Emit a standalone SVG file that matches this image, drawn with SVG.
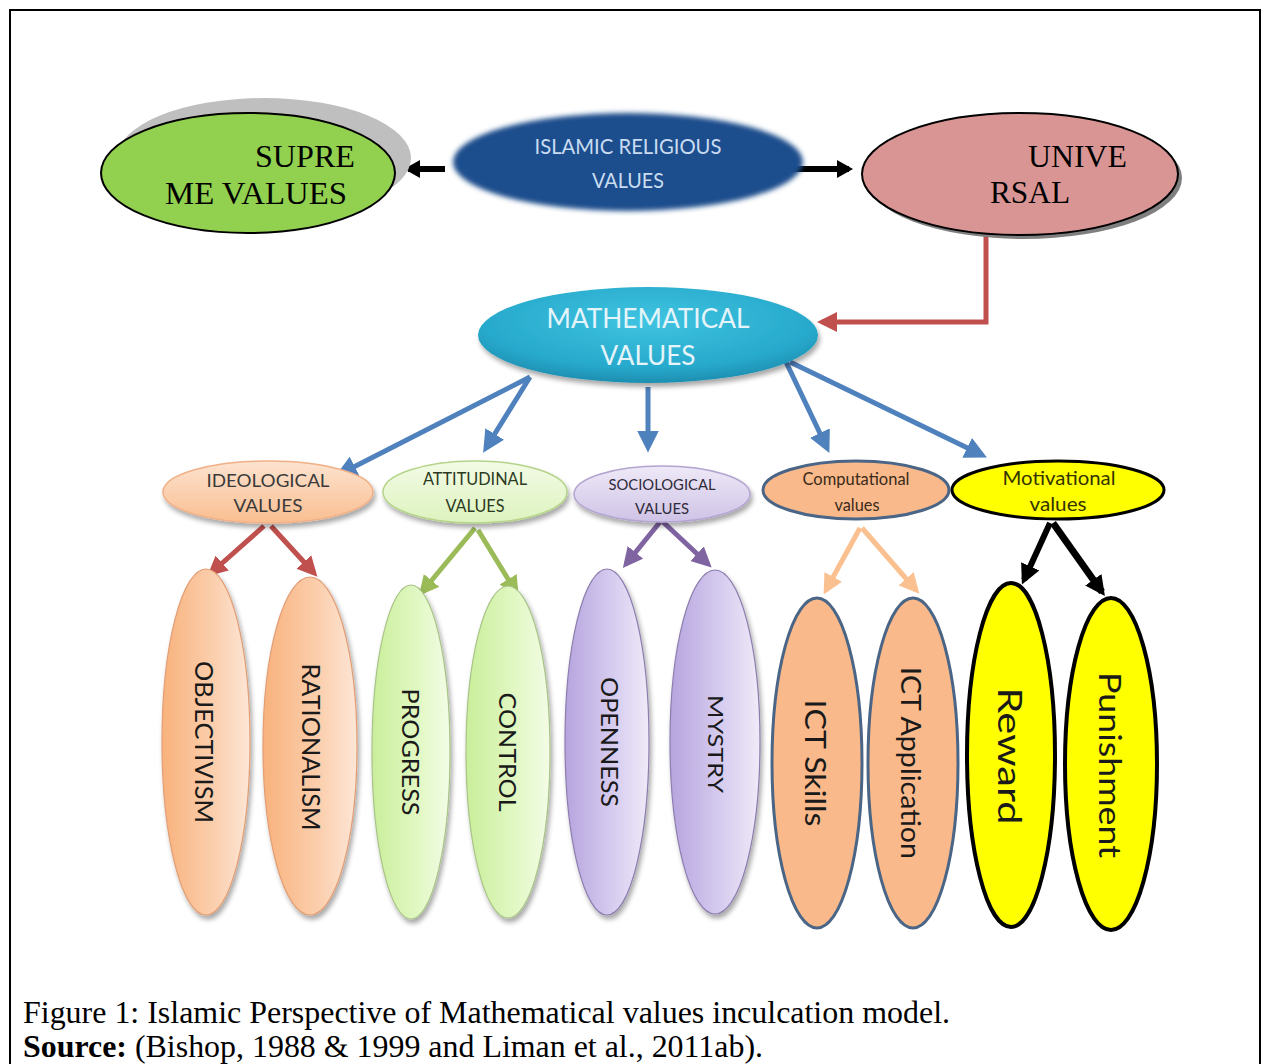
<svg xmlns="http://www.w3.org/2000/svg" width="1267" height="1064" viewBox="0 0 1267 1064">
<defs>
<style>
.serif{font-family:"Liberation Serif","Times New Roman",serif;fill:#000}
.cal{font-family:Lato,"Open Sans",sans-serif}
.vt{font-family:Lato,"Open Sans",sans-serif;text-anchor:middle;fill:#1a1a1a}
.mid{text-anchor:middle}
.conn{fill:none;stroke-linecap:butt}
</style>
<linearGradient id="gPeach" x1="0" y1="0" x2="1" y2="0">
<stop offset="0" stop-color="#F8B27C"/><stop offset="0.6" stop-color="#FBCFAE"/><stop offset="1" stop-color="#FDE6D6"/>
</linearGradient>
<linearGradient id="gPeachH" x1="0" y1="0" x2="0" y2="1">
<stop offset="0" stop-color="#FDE3D0"/><stop offset="1" stop-color="#F9BE90"/>
</linearGradient>
<linearGradient id="gGreen" x1="0" y1="0" x2="1" y2="0">
<stop offset="0" stop-color="#C9EE9B"/><stop offset="0.6" stop-color="#E2F8C4"/><stop offset="1" stop-color="#F3FCE6"/>
</linearGradient>
<linearGradient id="gGreenH" x1="0" y1="0" x2="0" y2="1">
<stop offset="0" stop-color="#F3FBE6"/><stop offset="1" stop-color="#DDF3BE"/>
</linearGradient>
<linearGradient id="gPurple" x1="0" y1="0" x2="1" y2="0">
<stop offset="0" stop-color="#B6A4DE"/><stop offset="0.6" stop-color="#D8CEF0"/><stop offset="1" stop-color="#EFEAF8"/>
</linearGradient>
<linearGradient id="gPurpleH" x1="0" y1="0" x2="0" y2="1">
<stop offset="0" stop-color="#EEE9F7"/><stop offset="1" stop-color="#CFC3E6"/>
</linearGradient>
<radialGradient id="gMath" cx="0.5" cy="0.35" r="0.7">
<stop offset="0" stop-color="#3FC4E0"/><stop offset="0.7" stop-color="#27A9CC"/><stop offset="1" stop-color="#1A86A8"/>
</radialGradient>
<filter id="soft" x="-10%" y="-20%" width="120%" height="140%"><feGaussianBlur stdDeviation="2.5"/></filter>
<filter id="shadow" x="-10%" y="-10%" width="125%" height="130%">
<feGaussianBlur in="SourceAlpha" stdDeviation="2.5"/><feOffset dx="2" dy="4" result="b"/>
<feComponentTransfer><feFuncA type="linear" slope="0.35"/></feComponentTransfer>
<feMerge><feMergeNode/><feMergeNode in="SourceGraphic"/></feMerge>
</filter>
<marker id="mBlue" markerUnits="userSpaceOnUse" markerWidth="22" markerHeight="22" viewBox="0 0 20 20" refX="15" refY="10" orient="auto"><path d="M0,0 L20,10 L0,20 z" fill="#4F81BD"/></marker>
<marker id="mRed" markerUnits="userSpaceOnUse" markerWidth="20" markerHeight="20" viewBox="0 0 20 20" refX="15" refY="10" orient="auto"><path d="M0,0 L20,10 L0,20 z" fill="#C0504D"/></marker>
<marker id="mGreen" markerUnits="userSpaceOnUse" markerWidth="20" markerHeight="20" viewBox="0 0 20 20" refX="15" refY="10" orient="auto"><path d="M0,0 L20,10 L0,20 z" fill="#9BBB59"/></marker>
<marker id="mPurple" markerUnits="userSpaceOnUse" markerWidth="20" markerHeight="20" viewBox="0 0 20 20" refX="15" refY="10" orient="auto"><path d="M0,0 L20,10 L0,20 z" fill="#8064A2"/></marker>
<marker id="mPeach" markerUnits="userSpaceOnUse" markerWidth="20" markerHeight="20" viewBox="0 0 20 20" refX="15" refY="10" orient="auto"><path d="M0,0 L20,10 L0,20 z" fill="#FAC090"/></marker>
<marker id="mBlack" markerUnits="userSpaceOnUse" markerWidth="20" markerHeight="20" viewBox="0 0 20 20" refX="15" refY="10" orient="auto"><path d="M0,0 L20,10 L0,20 z" fill="#000"/></marker>
<marker id="mBlackS" markerUnits="userSpaceOnUse" markerWidth="16" markerHeight="18" viewBox="0 0 16 18" refX="12" refY="9" orient="auto"><path d="M0,0 L16,9 L0,18 z" fill="#000"/></marker>
</defs>

<rect x="0" y="0" width="1267" height="1064" fill="#fff"/>
<rect id="frame" x="10" y="10" width="1250" height="1080" fill="none" stroke="#000" stroke-width="2"/>

<g id="connectors">
<line class="conn" x1="445" y1="169" x2="408" y2="169" stroke="#000" stroke-width="6" marker-end="url(#mBlackS)"/>
<line class="conn" x1="780" y1="169" x2="849" y2="169" stroke="#000" stroke-width="6" marker-end="url(#mBlackS)"/>
<polyline class="conn" points="986,235 986,322 822,322" stroke="#C0504D" stroke-width="5" marker-end="url(#mRed)"/>
<line class="conn" x1="530" y1="377" x2="340" y2="474" stroke="#4F81BD" stroke-width="5" marker-end="url(#mBlue)"/>
<line class="conn" x1="530" y1="377" x2="486" y2="448" stroke="#4F81BD" stroke-width="5" marker-end="url(#mBlue)"/>
<line class="conn" x1="648" y1="387" x2="648" y2="447" stroke="#4F81BD" stroke-width="5" marker-end="url(#mBlue)"/>
<line class="conn" x1="786" y1="362" x2="827" y2="448" stroke="#4F81BD" stroke-width="5" marker-end="url(#mBlue)"/>
<line class="conn" x1="790" y1="362" x2="982" y2="455" stroke="#4F81BD" stroke-width="5" marker-end="url(#mBlue)"/>
<line class="conn" x1="264" y1="526" x2="211" y2="573" stroke="#C0504D" stroke-width="5" marker-end="url(#mRed)"/>
<line class="conn" x1="271" y1="526" x2="314" y2="573" stroke="#C0504D" stroke-width="5" marker-end="url(#mRed)"/>
<line class="conn" x1="475" y1="528" x2="422" y2="592" stroke="#9BBB59" stroke-width="5" marker-end="url(#mGreen)"/>
<line class="conn" x1="478" y1="530" x2="516" y2="592" stroke="#9BBB59" stroke-width="5" marker-end="url(#mGreen)"/>
<line class="conn" x1="660" y1="522" x2="626" y2="564" stroke="#8064A2" stroke-width="5" marker-end="url(#mPurple)"/>
<line class="conn" x1="663" y1="522" x2="708" y2="564" stroke="#8064A2" stroke-width="5" marker-end="url(#mPurple)"/>
<line class="conn" x1="860" y1="528" x2="826" y2="590" stroke="#FAC090" stroke-width="5" marker-end="url(#mPeach)"/>
<line class="conn" x1="862" y1="528" x2="916" y2="590" stroke="#FAC090" stroke-width="5" marker-end="url(#mPeach)"/>
<line class="conn" x1="1050" y1="523" x2="1024" y2="580" stroke="#000" stroke-width="6" marker-end="url(#mBlack)"/>
<line class="conn" x1="1053" y1="523" x2="1102" y2="592" stroke="#000" stroke-width="7" marker-end="url(#mBlack)"/>
</g>

<g id="supreme">
<ellipse cx="264" cy="158" rx="147" ry="60" fill="#BFBFBF"/>
<ellipse cx="248" cy="173" rx="147" ry="60" fill="#92D050" stroke="#000" stroke-width="2"/>
<text class="serif" x="255" y="167" font-size="31" textLength="100" lengthAdjust="spacingAndGlyphs">SUPRE</text>
<text class="serif" x="165" y="204" font-size="31" textLength="182" lengthAdjust="spacingAndGlyphs">ME VALUES</text>
</g>

<g id="islamic">
<ellipse cx="628" cy="162" rx="175" ry="49" fill="#1F4E8C" filter="url(#soft)"/>
<text class="cal mid" x="628" y="154" font-size="22" fill="#C9DCF2" textLength="187" lengthAdjust="spacingAndGlyphs">ISLAMIC RELIGIOUS</text>
<text class="cal mid" x="628" y="188" font-size="22" fill="#C9DCF2" textLength="72" lengthAdjust="spacingAndGlyphs">VALUES</text>
</g>

<g id="universal">
<ellipse cx="1024" cy="178" rx="158" ry="61" fill="#7F7F7F"/>
<ellipse cx="1020" cy="174" rx="158" ry="61" fill="#D99594" stroke="#000" stroke-width="2"/>
<text class="serif" x="1028" y="167" font-size="31" textLength="99" lengthAdjust="spacingAndGlyphs">UNIVE</text>
<text class="serif" x="990" y="203" font-size="31" textLength="80" lengthAdjust="spacingAndGlyphs">RSAL</text>
</g>

<g id="mathematical">
<ellipse cx="648" cy="335" rx="170" ry="48" fill="url(#gMath)" filter="url(#shadow)"/>
<text class="cal mid" x="648" y="328" font-size="27" fill="#E4F4FA" textLength="203" lengthAdjust="spacingAndGlyphs">MATHEMATICAL</text>
<text class="cal mid" x="648" y="365" font-size="27" fill="#E4F4FA" textLength="95" lengthAdjust="spacingAndGlyphs">VALUES</text>
</g>

<g id="ideological">
<ellipse cx="268" cy="492" rx="105" ry="31" fill="url(#gPeachH)" stroke="#F0B088" stroke-width="1.5" filter="url(#shadow)"/>
<text class="cal mid" x="268" y="487" font-size="17" fill="#3a3a3a" textLength="123" lengthAdjust="spacingAndGlyphs">IDEOLOGICAL</text>
<text class="cal mid" x="268" y="512" font-size="17" fill="#3a3a3a" textLength="69" lengthAdjust="spacingAndGlyphs">VALUES</text>
</g>

<g id="attitudinal">
<ellipse cx="475" cy="492" rx="92" ry="31" fill="url(#gGreenH)" stroke="#B5D48A" stroke-width="1.5" filter="url(#shadow)"/>
<text class="cal mid" x="475" y="485" font-size="17" fill="#2c3a22" textLength="104" lengthAdjust="spacingAndGlyphs">ATTITUDINAL</text>
<text class="cal mid" x="475" y="512" font-size="17" fill="#2c3a22" textLength="59" lengthAdjust="spacingAndGlyphs">VALUES</text>
</g>

<g id="sociological">
<ellipse cx="662" cy="494" rx="88" ry="28" fill="url(#gPurpleH)" stroke="#B3A5D0" stroke-width="1.5" filter="url(#shadow)"/>
<text class="cal mid" x="662" y="490" font-size="16" fill="#2e2a3a" textLength="107" lengthAdjust="spacingAndGlyphs">SOCIOLOGICAL</text>
<text class="cal mid" x="662" y="514" font-size="16" fill="#2e2a3a" textLength="54" lengthAdjust="spacingAndGlyphs">VALUES</text>
</g>

<g id="computational">
<ellipse cx="856" cy="490" rx="93" ry="29" fill="#F9B98A" stroke="#4A6585" stroke-width="3"/>
<text class="cal mid" x="856" y="485" font-size="18" fill="#3b2a1a" textLength="107" lengthAdjust="spacingAndGlyphs">Computational</text>
<text class="cal mid" x="857" y="511" font-size="18" fill="#3b2a1a" textLength="45" lengthAdjust="spacingAndGlyphs">values</text>
</g>

<g id="motivational">
<ellipse cx="1058" cy="490" rx="106" ry="29" fill="#FFFF00" stroke="#000" stroke-width="3"/>
<text class="cal mid" x="1059" y="485" font-size="19" fill="#333300" textLength="113" lengthAdjust="spacingAndGlyphs">Motivational</text>
<text class="cal mid" x="1058" y="511" font-size="19" fill="#333300" textLength="57" lengthAdjust="spacingAndGlyphs">values</text>
</g>

<g id="objectivism">
<ellipse cx="206" cy="742" rx="44" ry="173" fill="url(#gPeach)" stroke="#E29D74" stroke-width="1.2" filter="url(#shadow)"/>
<text class="vt" transform="translate(204,742) rotate(90)" dy="0.35em" font-size="25" textLength="162" lengthAdjust="spacingAndGlyphs">OBJECTIVISM</text>
</g>
<g id="rationalism">
<ellipse cx="310" cy="746" rx="47" ry="169" fill="url(#gPeach)" stroke="#E29D74" stroke-width="1.2" filter="url(#shadow)"/>
<text class="vt" transform="translate(311,747) rotate(90)" dy="0.35em" font-size="25" textLength="167" lengthAdjust="spacingAndGlyphs">RATIONALISM</text>
</g>
<g id="progress">
<ellipse cx="411" cy="752" rx="39" ry="167" fill="url(#gGreen)" stroke="#A8C487" stroke-width="1.2" filter="url(#shadow)"/>
<text class="vt" transform="translate(410,752) rotate(90)" dy="0.35em" font-size="24" textLength="127" lengthAdjust="spacingAndGlyphs">PROGRESS</text>
</g>
<g id="control">
<ellipse cx="508" cy="752" rx="42" ry="166" fill="url(#gGreen)" stroke="#A8C487" stroke-width="1.2" filter="url(#shadow)"/>
<text class="vt" transform="translate(507,752) rotate(90)" dy="0.35em" font-size="24" textLength="119" lengthAdjust="spacingAndGlyphs">CONTROL</text>
</g>
<g id="openness">
<ellipse cx="607" cy="742" rx="42" ry="173" fill="url(#gPurple)" stroke="#8D7DAE" stroke-width="1.2" filter="url(#shadow)"/>
<text class="vt" transform="translate(609,742) rotate(90)" dy="0.35em" font-size="24" textLength="130" lengthAdjust="spacingAndGlyphs">OPENNESS</text>
</g>
<g id="mystry">
<ellipse cx="715" cy="742" rx="45" ry="172" fill="url(#gPurple)" stroke="#8D7DAE" stroke-width="1.2" filter="url(#shadow)"/>
<text class="vt" transform="translate(716,744) rotate(90)" dy="0.35em" font-size="22" textLength="98" lengthAdjust="spacingAndGlyphs">MYSTRY</text>
</g>
<g id="ictskills">
<ellipse cx="817" cy="763" rx="45" ry="165" fill="#F9B98A" stroke="#4A6585" stroke-width="3"/>
<text class="vt" transform="translate(815,763) rotate(90)" dy="0.35em" font-size="28" textLength="127" lengthAdjust="spacingAndGlyphs">ICT Skills</text>
</g>
<g id="ictapplication">
<ellipse cx="913" cy="763" rx="45" ry="165" fill="#F9B98A" stroke="#4A6585" stroke-width="3"/>
<text class="vt" transform="translate(910,763) rotate(90)" dy="0.35em" font-size="27" textLength="192" lengthAdjust="spacingAndGlyphs">ICT Application</text>
</g>
<g id="reward">
<ellipse cx="1011" cy="755" rx="44" ry="172" fill="#FFFF00" stroke="#000" stroke-width="4"/>
<text class="vt" transform="translate(1010,756) rotate(90)" dy="0.35em" font-size="33" textLength="137" lengthAdjust="spacingAndGlyphs">Reward</text>
</g>
<g id="punishment">
<ellipse cx="1111" cy="764" rx="46" ry="166" fill="#FFFF00" stroke="#000" stroke-width="4"/>
<text class="vt" transform="translate(1110,765) rotate(90)" dy="0.35em" font-size="31" textLength="186" lengthAdjust="spacingAndGlyphs">Punishment</text>
</g>

<g id="caption">
<text class="serif" x="23" y="1023" font-size="31" textLength="927" lengthAdjust="spacingAndGlyphs">Figure 1: Islamic Perspective of Mathematical values inculcation model.</text>
<text class="serif" x="23" y="1057" font-size="31" textLength="740" lengthAdjust="spacingAndGlyphs"><tspan font-weight="bold">Source:</tspan> (Bishop, 1988 &amp; 1999 and Liman et al., 2011ab).</text>
</g>
</svg>
